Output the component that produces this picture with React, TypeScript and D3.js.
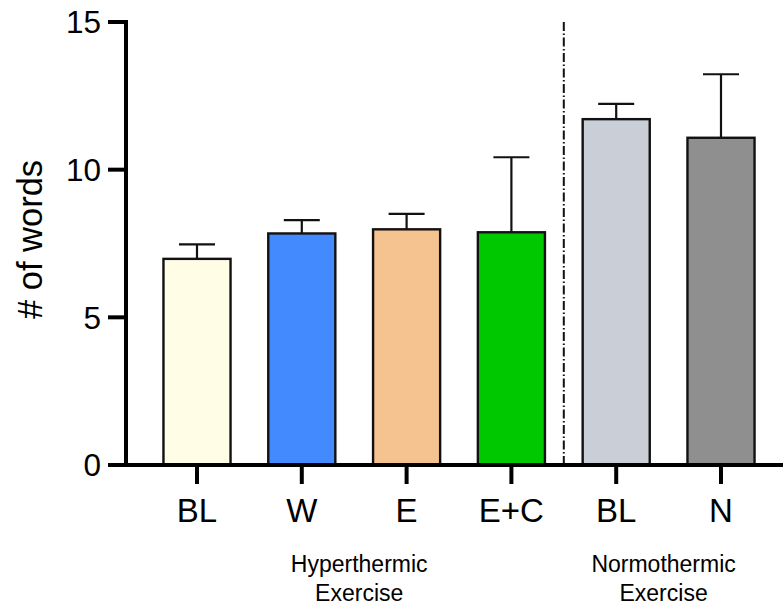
import React from "react";
import * as d3 from "d3";

// bar data
const categories = ["BL", "W", "E", "E+C", "BL ", "N"];
const tickLabels = ["BL", "W", "E", "E+C", "BL", "N"];
const means = [6.98, 7.84, 7.98, 7.88, 11.71, 11.08];
const upperErr = [7.47, 8.29, 8.5, 10.42, 12.23, 13.23];
const barColors = ["#fffde6", "#448aff", "#f5c38f", "#00c800", "#caced6", "#8f8f8f"];
const yTicks = [0, 5, 10, 15];
const groups = [
  { lines: ["Hyperthermic", "Exercise"], from: "W", to: "E" },
  { lines: ["Normothermic", "Exercise"], from: "BL ", to: "N" },
];

const W = 783;
const H = 608;
const FONT = "'Liberation Sans', Arial, Helvetica, sans-serif";
// small nudges so group labels sit like the original
const groupNudge = [5, -5];

const App = () => {
  const axisX = 126;
  const x = d3
    .scaleBand<string>()
    .domain(categories)
    .range([144.6, 773.4])
    .paddingInner(0.36)
    .paddingOuter(0.18);
  const y = d3.scaleLinear().domain([0, 15]).range([465, 22]);

  const cx = (c: string) => (x(c) as number) + x.bandwidth() / 2;
  const capW = 36;
  // divider sits between E+C and second BL
  const divX = (cx("E+C") + cx("BL ")) / 2;

  return (
    <svg
      width={W}
      height={H}
      style={{ position: "absolute", left: 0, top: 0, background: "#fff" }}
      fontFamily={FONT}
    >
      {/* bars */}
      {categories.map((c, i) => (
        <g key={c}>
          <line
            x1={cx(c)}
            x2={cx(c)}
            y1={y(means[i])}
            y2={y(upperErr[i])}
            stroke="#111"
            strokeWidth={2.2}
          />
          <line
            x1={cx(c) - capW / 2}
            x2={cx(c) + capW / 2}
            y1={y(upperErr[i])}
            y2={y(upperErr[i])}
            stroke="#111"
            strokeWidth={2.2}
          />
          <rect
            x={x(c)}
            y={y(means[i])}
            width={x.bandwidth()}
            height={y(0) - y(means[i])}
            fill={barColors[i]}
            stroke="#111"
            strokeWidth={2.4}
          />
        </g>
      ))}

      {/* dash-dot divider */}
      <line
        x1={divX}
        x2={divX}
        y1={y(15)}
        y2={y(0)}
        stroke="#111"
        strokeWidth={2}
        strokeDasharray="9 2.5 1.5 2.5"
      />

      {/* y axis */}
      <line x1={axisX} x2={axisX} y1={y(15) - 2} y2={y(0) + 2} stroke="#000" strokeWidth={4} />
      {yTicks.map((t) => (
        <g key={t}>
          <line x1={108} x2={axisX} y1={y(t)} y2={y(t)} stroke="#000" strokeWidth={4} />
          <text
            x={101}
            y={y(t)}
            dy="0.36em"
            textAnchor="end"
            fontSize={31.5}
            fill="#000"
          >
            {t}
          </text>
        </g>
      ))}
      <text
        transform={`translate(42,${(y(0) + y(15)) / 2 - 4}) rotate(-90)`}
        textAnchor="middle"
        fontSize={34.5}
        fill="#000"
      >
        # of words
      </text>

      {/* x axis */}
      <line x1={108} x2={W} y1={y(0)} y2={y(0)} stroke="#000" strokeWidth={4} />
      {categories.map((c, i) => (
        <g key={"t" + c}>
          <line x1={cx(c)} x2={cx(c)} y1={y(0)} y2={y(0) + 19} stroke="#000" strokeWidth={4} />
          <text x={cx(c)} y={521.5} textAnchor="middle" fontSize={33} fill="#000">
            {tickLabels[i]}
          </text>
        </g>
      ))}

      {/* group labels */}
      {groups.map((g, k) => {
        const gx = (cx(g.from) + cx(g.to)) / 2 + groupNudge[k];
        return (
          <text key={g.lines[0]} x={gx} textAnchor="middle" fontSize={23} fill="#000">
            {g.lines.map((l, j) => (
              <tspan key={l} x={gx} y={571.5 + j * 29.5}>
                {l}
              </tspan>
            ))}
          </text>
        );
      })}
    </svg>
  );
};

export default App;
